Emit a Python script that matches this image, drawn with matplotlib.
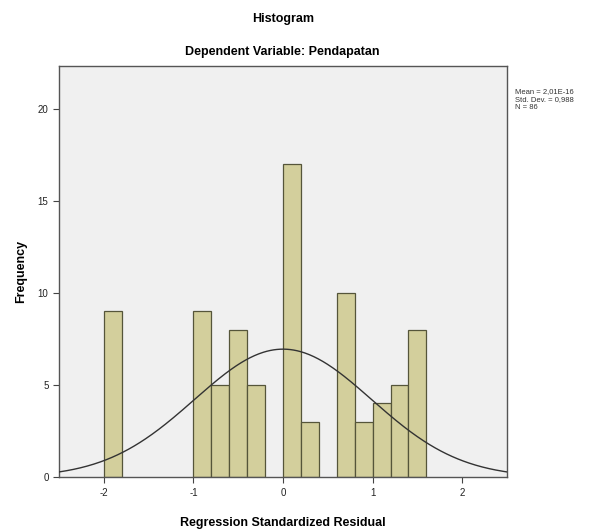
import numpy as np
import matplotlib
matplotlib.use('Agg')
import matplotlib.pyplot as plt

plt.rcParams['font.family'] = ['Liberation Sans', 'DejaVu Sans']
plt.rcParams['axes.unicode_minus'] = False

# histogram bins (left edge, frequency)
bin_left = [-2.0, -1.0, -0.8, -0.6, -0.4, 0.0, 0.2, 0.6, 0.8, 1.0, 1.2, 1.4]
counts = [9, 9, 5, 8, 5, 17, 3, 10, 3, 4, 5, 8]
bin_width = 0.2

mean = 2.01e-16
std = 0.988
n = 86
stats_lines = ['Mean = 2,01E-16', 'Std. Dev. = 0,988', 'N = 86']

x_ticks = [-2, -1, 0, 1, 2]
y_ticks = [0, 5, 10, 15, 20]

fig = plt.figure(figsize=(6.08, 5.29), dpi=100)
ax = fig.add_axes([0.097, 0.098, 0.737, 0.777])
ax.set_facecolor('#f0f0f0')

ax.bar(bin_left, counts, width=bin_width, align='edge', color='#d3cf9c',
       edgecolor='#55553a', linewidth=0.9, zorder=2)

# normal curve scaled to the histogram
xs = np.linspace(-2.5, 2.5, 400)
ys = n * bin_width * np.exp(-0.5 * ((xs - mean) / std) ** 2) / (std * np.sqrt(2 * np.pi))
ax.plot(xs, ys, color='#333333', lw=1.0, zorder=3)

ax.set_xlim(-2.5, 2.5)
ax.set_ylim(0, 22.3)
ax.set_xticks(x_ticks)
ax.set_yticks(y_ticks)
ax.tick_params(labelsize=7, length=4, color='#444444', labelcolor='#222222')
for s in ax.spines.values():
    s.set_color('#555555')
    s.set_linewidth(1.0)

ax.set_xlabel('Regression Standardized Residual', fontsize=9, fontweight='bold', labelpad=14)
ax.set_ylabel('Frequency', fontsize=9, fontweight='bold', labelpad=8)

fig.text(0.465, 0.965, 'Histogram', ha='center', va='center', fontsize=9, fontweight='bold')
fig.text(0.465, 0.902, 'Dependent Variable: Pendapatan', ha='center', va='center',
         fontsize=9, fontweight='bold')

for i, line in enumerate(stats_lines):
    fig.text(0.847, 0.826 - i * 0.015, line, ha='left', va='center', fontsize=5.5, color='#333333')

fig.savefig('out.png', dpi=100)
